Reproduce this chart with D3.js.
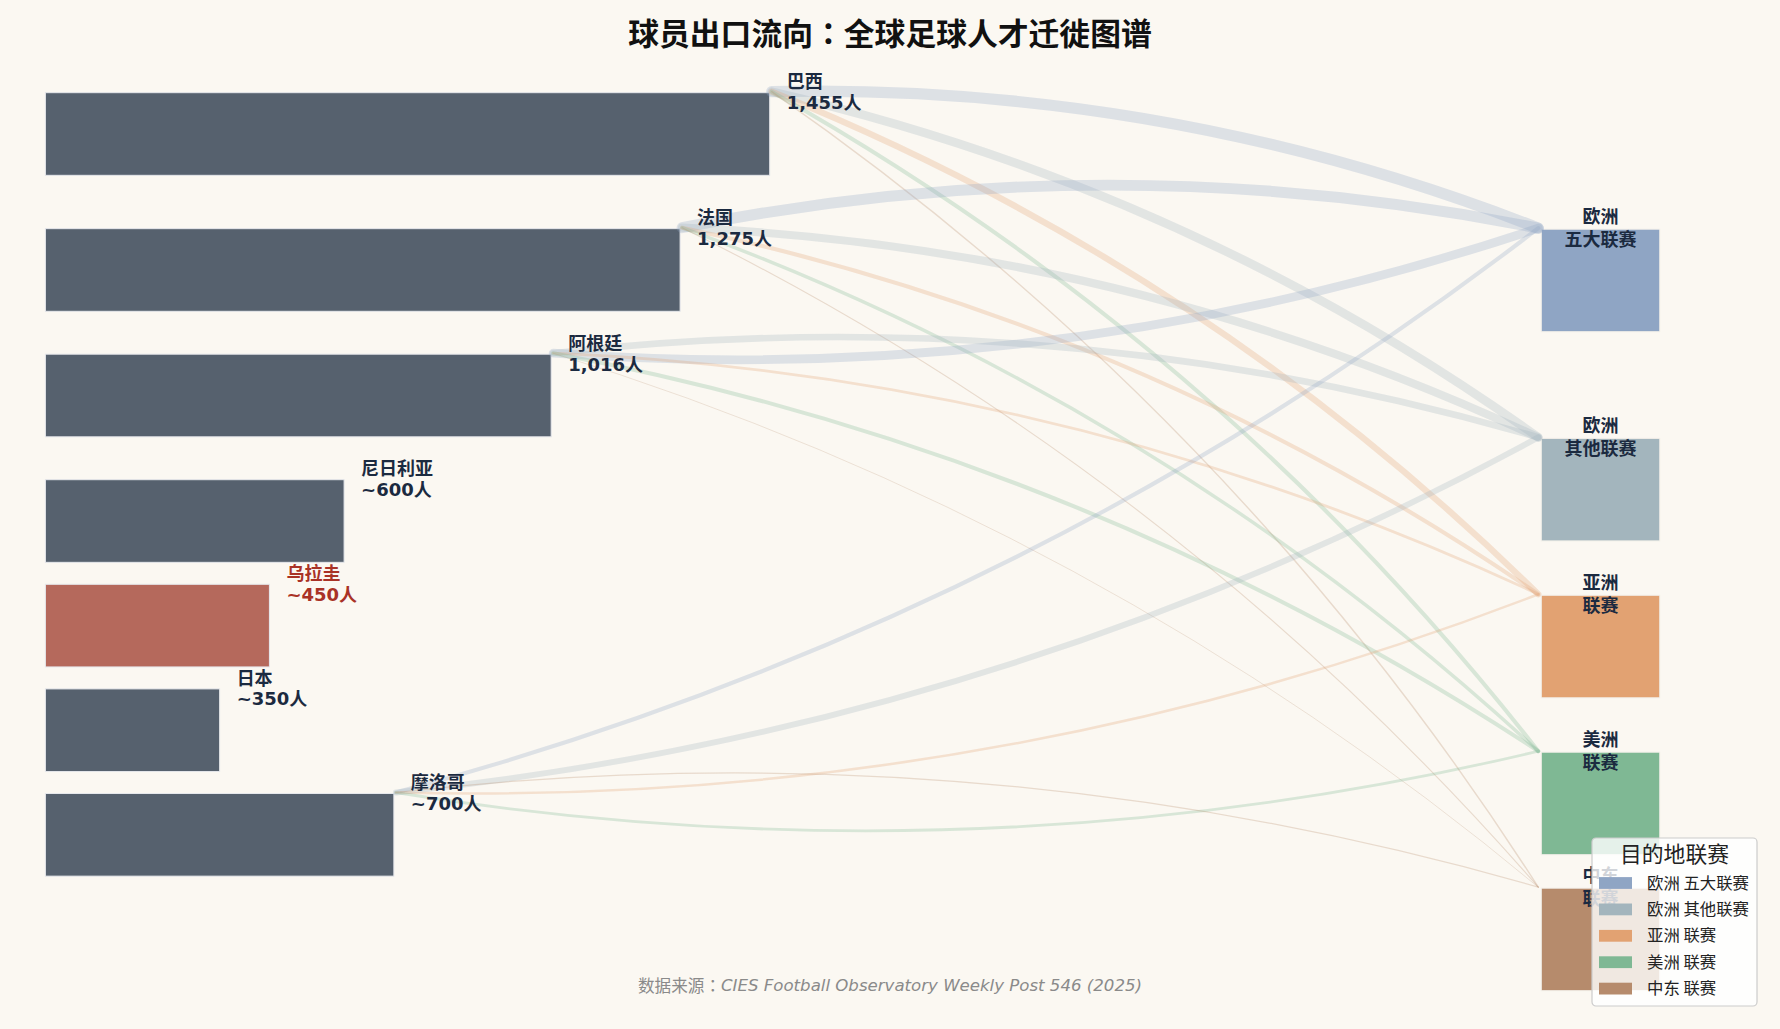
<!DOCTYPE html>
<html>
<head>
<meta charset="utf-8">
<script src="https://cdn.jsdelivr.net/npm/d3@7"></script>
<style>
  html, body { margin: 0; padding: 0; background: #fbf8f2; }
  svg { display: block; }
</style>
</head>
<body>
<svg id="chart"></svg>
<script>
// --- data ---
const countries = ["巴西", "法国", "阿根廷", "尼日利亚", "乌拉圭", "日本", "摩洛哥"];
const exported = [1455, 1275, 1016, 600, 450, 350, 700];
const countLabels = ["1,455人", "1,275人", "1,016人", "~600人", "~450人", "~350人", "~700人"];
const highlight = "乌拉圭";

const leagues = ["欧洲\n五大联赛", "欧洲\n其他联赛", "亚洲\n联赛", "美洲\n联赛", "中东\n联赛"];
const legendNames = ["欧洲 五大联赛", "欧洲 其他联赛", "亚洲 联赛", "美洲 联赛", "中东 联赛"];

// players sent to each league group (same order as leagues)
const flowSources = ["巴西", "法国", "阿根廷", "摩洛哥"];
const flowBrazil = [360, 280, 200, 130, 45];
const flowFrance = [350, 260, 130, 110, 35];
const flowArgentina = [280, 210, 90, 130, 25];
const flowMorocco = [130, 190, 80, 90, 40];
const flowTable = [flowBrazil, flowFrance, flowArgentina, flowMorocco];

// --- layout / style ---
const W = 1780, H = 1029;
const bg = "#fbf8f2";
const barColor = "#56616e", hiColor = "#b5695c";
const leagueColors = ["#8fa5c4", "#a3b5bd", "#e2a272", "#7fb894", "#b68b6c"];
const rowY = [9.0, 7.7, 6.5, 5.3, 4.3, 3.3, 2.3];   // row centres in axis units
const leagueY = [7.6, 5.6, 4.1, 2.6, 1.3];
const barHalf = 0.395, boxHalf = 0.49;
const CJK = "'Noto Sans CJK SC', 'Noto Sans', sans-serif";
const PUNCT = "'Noto Sans CJK TC', 'Noto Sans CJK SC', sans-serif";
const NUM = "'DejaVu Sans', 'Noto Sans CJK SC', sans-serif";
const ink = "#1b2a40";

const x = d3.scaleLinear().domain([0, 1455]).range([45.4, 769.7]);
const y = d3.scaleLinear().domain([0, 10]).range([1075.4, 29.4]);
const lw = d3.scaleLinear().domain([0, 32]).range([0, 1]);
const boxX0 = x(3005), boxX1 = x(3243);

const svg = d3.select("#chart").attr("width", W).attr("height", H);
svg.append("rect").attr("width", W).attr("height", H).attr("fill", bg);

// title (the full-width colon centred, as in traditional forms)
const title = svg.append("text")
  .attr("x", W / 2).attr("y", 31)
  .attr("text-anchor", "middle").attr("dominant-baseline", "central")
  .attr("font-family", CJK).attr("font-weight", 700).attr("font-size", 30.8)
  .attr("fill", "#111");
title.append("tspan").text("球员出口流向");
title.append("tspan").attr("font-family", PUNCT).text("：");
title.append("tspan").text("全球足球人才迁徙图谱");

// source bars
svg.append("g").selectAll("rect").data(countries).join("rect")
  .attr("x", x(0))
  .attr("y", (d, i) => y(rowY[i] + barHalf))
  .attr("width", (d, i) => x(exported[i]) - x(0))
  .attr("height", (d, i) => y(rowY[i] - barHalf) - y(rowY[i] + barHalf))
  .attr("fill", d => d === highlight ? hiColor : barColor)
  .attr("stroke", "#e6e8ec").attr("stroke-width", 1);

// destination boxes
svg.append("g").selectAll("rect").data(leagues).join("rect")
  .attr("x", boxX0)
  .attr("y", (d, i) => y(leagueY[i] + boxHalf))
  .attr("width", boxX1 - boxX0)
  .attr("height", (d, i) => y(leagueY[i] - boxHalf) - y(leagueY[i] + boxHalf))
  .attr("fill", (d, i) => leagueColors[i])
  .attr("stroke", "#f2efe9").attr("stroke-width", 1);

// flows (quadratic arcs, bowing away from the direction of travel)
const flowG = svg.append("g").attr("fill", "none").attr("stroke-linecap", "round");
flowSources.forEach((src, s) => {
  const i = countries.indexOf(src);
  const p0 = [x(exported[i]) + 2, y(rowY[i] + barHalf) - 1];
  flowTable[s].forEach((v, j) => {
    const p1 = [boxX0 - 3, y(leagueY[j] + boxHalf) - 1];
    const dx = p1[0] - p0[0], dy = p1[1] - p0[1];
    const rad = dy > 0 ? -0.1 : 0.1;
    const p = d3.path();
    p.moveTo(p0[0], p0[1]);
    p.quadraticCurveTo((p0[0] + p1[0]) / 2 - rad * dy, (p0[1] + p1[1]) / 2 + rad * dx, p1[0], p1[1]);
    flowG.append("path")
      .attr("d", p.toString())
      .attr("stroke", leagueColors[j])
      .attr("stroke-opacity", 0.28)
      .attr("stroke-width", lw(v));
  });
});

// source labels
const srcLab = svg.append("g").selectAll("text").data(countries).join("text")
  .attr("x", (d, i) => x(exported[i]) + 17)
  .attr("y", (d, i) => y(rowY[i] + barHalf))
  .attr("fill", d => d === highlight ? "#a93226" : ink)
  .attr("font-size", 18).attr("font-weight", 700);
srcLab.append("tspan")
  .attr("x", (d, i) => x(exported[i]) + 17).attr("dy", -12.3)
  .attr("dominant-baseline", "central").attr("font-family", CJK)
  .text(d => d);
srcLab.append("tspan")
  .attr("x", (d, i) => x(exported[i]) + 17).attr("dy", 22.3)
  .attr("dominant-baseline", "central").attr("font-family", NUM)
  .text((d, i) => countLabels[i]);

// league labels
const dstLab = svg.append("g").selectAll("text").data(leagues).join("text")
  .attr("x", (boxX0 + boxX1) / 2)
  .attr("y", (d, i) => y(leagueY[i] + boxHalf))
  .attr("text-anchor", "middle")
  .attr("fill", ink).attr("font-family", CJK)
  .attr("font-size", 18).attr("font-weight", 700);
dstLab.each(function (d) {
  const lines = d.split("\n");
  d3.select(this).selectAll("tspan").data(lines).join("tspan")
    .attr("x", (boxX0 + boxX1) / 2)
    .attr("dy", (l, k) => k === 0 ? -14 : 23)
    .attr("dominant-baseline", "central")
    .text(l => l);
});

// legend
const lg = svg.append("g").attr("transform", "translate(1592,838)");
lg.append("rect").attr("width", 165).attr("height", 168).attr("rx", 4)
  .attr("fill", "#ffffff").attr("fill-opacity", 0.8)
  .attr("stroke", "#cccccc").attr("stroke-width", 1.2);
lg.append("text").attr("x", 82.5).attr("y", 14)
  .attr("text-anchor", "middle").attr("dominant-baseline", "central")
  .attr("font-family", CJK).attr("font-size", 21.8).attr("fill", "#222")
  .text("目的地联赛");
const items = lg.selectAll("g.item").data(legendNames).join("g")
  .attr("class", "item")
  .attr("transform", (d, i) => `translate(0,${45 + i * 26.4})`);
items.append("rect").attr("x", 7).attr("y", -5.9).attr("width", 33).attr("height", 11.8)
  .attr("fill", (d, i) => leagueColors[i]);
items.append("text").attr("x", 55).attr("y", -1.5)
  .attr("dominant-baseline", "central")
  .attr("font-family", CJK).attr("font-size", 16.4).attr("fill", "#222")
  .text(d => d);

// source note
const note = svg.append("text")
  .attr("x", W / 2).attr("y", 985)
  .attr("text-anchor", "middle").attr("dominant-baseline", "central")
  .attr("font-size", 16.6).attr("fill", "#8a8a8a");
note.append("tspan").attr("font-family", CJK).text("数据来源");
note.append("tspan").attr("font-family", PUNCT).text("：");
note.append("tspan").attr("font-family", NUM).attr("font-style", "italic")
  .text("CIES Football Observatory Weekly Post 546 (2025)");
</script>
</body>
</html>
